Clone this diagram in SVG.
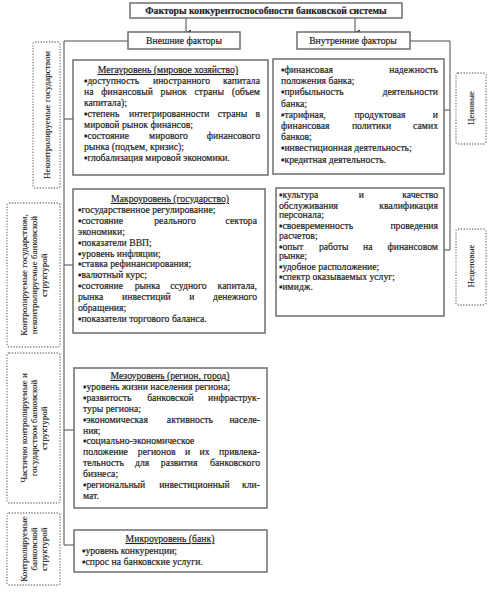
<svg xmlns="http://www.w3.org/2000/svg" width="494" height="596" viewBox="0 0 494 596">
<defs>
<marker id="arr" viewBox="0 0 6 6" refX="3" refY="6" markerWidth="5" markerHeight="5" orient="auto-start-reverse" markerUnits="userSpaceOnUse"><path d="M0,0 L6,0 L3,6 Z" fill="#333"/></marker>
<style>
text{font-family:"Liberation Serif","Times New Roman",serif;font-size:9.7px;fill:#1e1e1e;stroke:#1e1e1e;stroke-width:0.2}
.b{stroke:#6e6e6e;stroke-width:1.5;fill:#fff}
.d{stroke:#808080;stroke-width:1.3;fill:none;stroke-dasharray:1.3 1.5}
.c{stroke:#4a4a4a;stroke-width:1;fill:none}
.t{font-weight:bold}
.m{text-anchor:middle}
.e{text-anchor:end}
.u{text-decoration:underline}
.r{font-size:9px;stroke-width:0.1}
</style>
</defs>
<rect width="494" height="596" fill="#fff"/>

<g id="connectors">
<line class="c" x1="186" y1="18" x2="186" y2="32" marker-end="url(#arr)"/>
<line class="c" x1="355" y1="18" x2="355" y2="32" marker-end="url(#arr)"/>
<polyline class="c" points="128,41 64,41 64,545 74,545"/>
<line class="c" x1="64" y1="119" x2="73" y2="119"/>
<line class="c" x1="64" y1="265" x2="73" y2="265"/>
<line class="c" x1="64" y1="430" x2="74" y2="430"/>
<polyline class="c" points="410,41 450,41 450,250 444,250"/>
<line class="c" x1="444" y1="110" x2="450" y2="110"/>
</g>

<g id="title">
<rect class="b" x="130" y="3" width="272" height="15"/>
<text class="t m" x="266" y="14">Факторы конкурентоспособности банковской системы</text>
</g>

<g id="external">
<rect class="b" x="128" y="32" width="112" height="17"/>
<text class="m" x="184" y="44">Внешние факторы</text>
</g>

<g id="internal">
<rect class="b" x="297" y="32" width="113" height="17"/>
<text class="m" x="353" y="44">Внутренние факторы</text>
</g>

<g id="mega">
<rect class="b" x="73" y="60" width="195" height="115"/>
<text class="m u" x="168" y="73">Мегауровень (мировое хозяйство)</text>
<text x="84" y="84">▪доступность</text><text x="181.5" y="84" class="m">иностранного</text><text x="260" y="84" class="e">капитала</text>
<text x="84" y="95">на</text><text x="101.3" y="95">финансовый</text><text x="160.6" y="95">рынок</text><text x="194.5" y="95">страны</text><text x="260" y="95" class="e">(объем</text>
<text x="84" y="106">капитала);</text>
<text x="84" y="117">▪степень</text><text x="129" y="117">интегрированности</text><text x="217.7" y="117">страны</text><text x="260" y="117" class="e">в</text>
<text x="84" y="128">мировой рынок финансов;</text>
<text x="84" y="139">▪состояние</text><text x="168.5" y="139" class="m">мирового</text><text x="260" y="139" class="e">финансового</text>
<text x="84" y="150">рынка (подъем, кризис);</text>
<text x="84" y="161">▪глобализация мировой экономики.</text>
</g>

<g id="macro">
<rect class="b" x="73" y="189" width="192" height="144"/>
<text class="m u" x="170" y="202">Макроуровень (государство)</text>
<text x="78" y="212.9">▪государственное регулирование;</text>
<text x="78" y="223.8">▪состояние</text><text x="175" y="223.8" class="m">реального</text><text x="257" y="223.8" class="e">сектора</text>
<text x="78" y="234.7">экономики;</text>
<text x="78" y="245.6">▪показатели ВВП;</text>
<text x="78" y="256.5">▪уровень инфляции;</text>
<text x="78" y="267.4">▪ставка рефинансирования;</text>
<text x="78" y="278.3">▪валютный курс;</text>
<text x="78" y="289.2">▪состояние</text><text x="134.7" y="289.2">рынка</text><text x="170.3" y="289.2">ссудного</text><text x="257" y="289.2" class="e">капитала,</text>
<text x="78" y="300.1">рынка</text><text x="122.1" y="300.1">инвестиций</text><text x="189.2" y="300.1">и</text><text x="257" y="300.1" class="e">денежного</text>
<text x="78" y="311">обращения;</text>
<text x="78" y="321.9">▪показатели торгового баланса.</text>
</g>

<g id="meso">
<rect class="b" x="74" y="368" width="193" height="140"/>
<text class="m u" x="170" y="379">Мезоуровень (регион, город)</text>
<text x="83" y="389.9">▪уровень жизни населения региона;</text>
<text x="83" y="400.8">▪развитость</text><text x="170.4" y="400.8" class="m">банковской</text><text x="260" y="400.8" class="e">инфраструк-</text>
<text x="83" y="411.7">туры региона;</text>
<text x="83" y="422.6">▪экономическая</text><text x="189.9" y="422.6" class="m">активность</text><text x="260" y="422.6" class="e">населе-</text>
<text x="83" y="433.5">ния;</text>
<text x="83" y="444.4">▪социально-экономическое</text>
<text x="83" y="455.3">положение</text><text x="137.8" y="455.3">регионов</text><text x="184.9" y="455.3">и</text><text x="199.5" y="455.3">их</text><text x="260" y="455.3" class="e">привлека-</text>
<text x="83" y="466.2">тельность</text><text x="135.1" y="466.2">для</text><text x="160.8" y="466.2">развития</text><text x="260" y="466.2" class="e">банковского</text>
<text x="83" y="477.1">бизнеса;</text>
<text x="83" y="488">▪региональный</text><text x="194.4" y="488" class="m">инвестиционный</text><text x="260" y="488" class="e">кли-</text>
<text x="83" y="498.9">мат.</text>
</g>

<g id="micro">
<rect class="b" x="74" y="530" width="193" height="42"/>
<text class="m u" x="170" y="542">Микроуровень (банк)</text>
<text x="82" y="553.5">▪уровень конкуренции;</text>
<text x="82" y="565">▪спрос на банковские услуги.</text>
</g>

<g id="internal-price">
<rect class="b" x="273" y="59" width="171" height="115"/>
<text x="281" y="73">▪финансовая</text><text x="438" y="73" class="e">надежность</text>
<text x="281" y="84.2">положения банка;</text>
<text x="281" y="95.4">▪прибыльность</text><text x="438" y="95.4" class="e">деятельности</text>
<text x="281" y="106.6">банка;</text>
<text x="281" y="117.8">▪тарифная,</text><text x="380" y="117.8" class="m">продуктовая</text><text x="438" y="117.8" class="e">и</text>
<text x="281" y="129">финансовая</text><text x="371.5" y="129" class="m">политики</text><text x="438" y="129" class="e">самих</text>
<text x="281" y="140.2">банков;</text>
<text x="281" y="151.4">▪инвестиционная деятельность;</text>
<text x="281" y="162.6">▪кредитная деятельность.</text>
</g>

<g id="internal-nonprice">
<rect class="b" x="276" y="188" width="168" height="128"/>
<text x="279" y="198">▪культура</text><text x="361.3" y="198" class="m">и</text><text x="438" y="198" class="e">качество</text>
<text x="279" y="208.5">обслуживания</text><text x="438" y="208.5" class="e">квалификация</text>
<text x="279" y="218">персонала;</text>
<text x="279" y="229">▪своевременность</text><text x="438" y="229" class="e">проведения</text>
<text x="279" y="238.5">расчетов;</text>
<text x="279" y="249.5">▪опыт</text><text x="318.9" y="249.5">работы</text><text x="363.1" y="249.5">на</text><text x="438" y="249.5" class="e">финансовом</text>
<text x="279" y="259">рынке;</text>
<text x="279" y="269.5">▪удобное расположение;</text>
<text x="279" y="279.5">▪спектр оказываемых услуг;</text>
<text x="279" y="289.5">▪имидж.</text>
</g>

<g id="label-uncontrolled">
<rect class="d" x="33" y="42" width="27" height="146" rx="2"/>
<text class="m r" transform="translate(50,115) rotate(-90)">Неконтролируемые государством</text>
</g>

<g id="label-state-controlled">
<rect class="d" x="7" y="203" width="53" height="144" rx="2"/>
<text class="m r" transform="translate(26.5,275) rotate(-90)">Контролируемые государством,</text>
<text class="m r" transform="translate(36.5,275) rotate(-90)">неконтролируемые банковской</text>
<text class="m r" transform="translate(46.5,275) rotate(-90)">структурой</text>
</g>

<g id="label-partly-controlled">
<rect class="d" x="7" y="353" width="53" height="150" rx="2"/>
<text class="m r" transform="translate(26.5,428) rotate(-90)">Частично контролируемые и</text>
<text class="m r" transform="translate(36.5,428) rotate(-90)">государством банковской</text>
<text class="m r" transform="translate(46.5,428) rotate(-90)">структурой</text>
</g>

<g id="label-bank-controlled">
<rect class="d" x="7" y="513" width="53" height="72" rx="2"/>
<text class="m r" transform="translate(26.5,549) rotate(-90)">Контролируемые</text>
<text class="m r" transform="translate(36.5,549) rotate(-90)">банковской</text>
<text class="m r" transform="translate(46.5,549) rotate(-90)">структурой</text>
</g>

<g id="label-price">
<rect class="d" x="456" y="73" width="30" height="71" rx="2"/>
<text class="m r" transform="translate(474,108) rotate(-90)">Ценовые</text>
</g>

<g id="label-nonprice">
<rect class="d" x="456" y="229" width="30" height="76" rx="2"/>
<text class="m r" transform="translate(474,266) rotate(-90)">Неценовые</text>
</g>
</svg>
